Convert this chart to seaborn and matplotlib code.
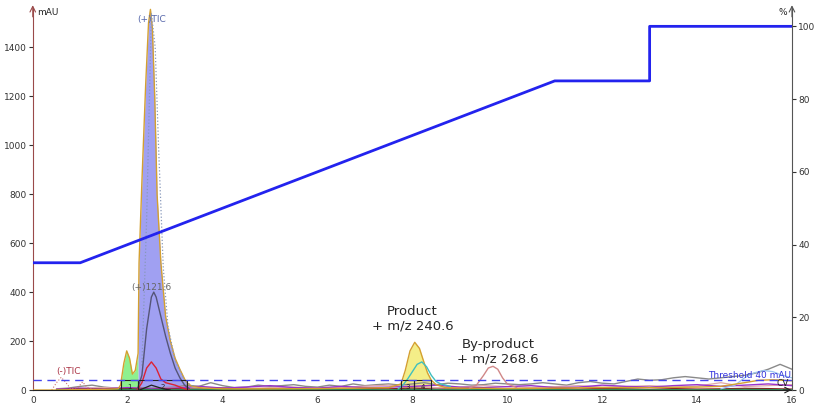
import numpy as np
import pandas as pd
import matplotlib
matplotlib.use("Agg")
import matplotlib.pyplot as plt
import seaborn as sns
from matplotlib.patches import Rectangle

# UV trace (gold outline of the collected fractions)
uv_t = [0, 0.45, 1.0, 1.5, 1.8, 1.85, 1.92, 1.98, 2.04, 2.1, 2.16, 2.22, 2.24, 2.3, 2.38,
        2.44, 2.48, 2.52, 2.57, 2.62, 2.7, 2.8, 2.9, 3.0, 3.1, 3.2, 3.25, 3.35, 3.6, 4.0,
        5, 6, 7, 7.5, 7.76, 7.85, 7.95, 8.05, 8.15, 8.25, 8.32, 8.4, 8.5, 8.7, 9, 10, 11,
        12, 13, 14, 14.5, 15, 15.3, 15.6, 16]
uv_y = [0, 0, 2, 3, 5, 20, 110, 160, 130, 65, 80, 150, 520, 850, 1250,
        1500, 1555, 1480, 1200, 800, 520, 300, 200, 130, 85, 45, 30, 15, 8, 5,
        5, 6, 8, 10, 25, 80, 160, 195, 170, 110, 70, 40, 22, 10, 8, 6, 8,
        10, 10, 12, 15, 30, 40, 42, 38]

# collected peaks (filled) and fraction tubes (boxes)
peak_start = [1.85, 2.22, 7.76]
peak_end = [2.22, 3.25, 8.40]
peak_color = ["#8ef08e", "#a0a0f2", "#f4ee88"]
frac_start = [1.85, 2.22, 7.76, 8.04]
frac_end = [2.22, 3.25, 8.04, 8.40]
frac_label = ["1", "2", "3", "4"]

# (+)121.6 trace
ion_t = [2.2, 2.3, 2.4, 2.5, 2.55, 2.6, 2.7, 2.8, 2.9, 3.0, 3.1, 3.2, 3.3]
ion_y = [0, 60, 250, 380, 400, 380, 300, 220, 150, 90, 50, 20, 5]
# red trace
red_t = [2.2, 2.3, 2.4, 2.5, 2.6, 2.7, 2.8, 3.0, 3.2, 3.3]
red_y = [0, 30, 90, 115, 90, 45, 30, 20, 5, 0]
# dotted (+)TIC
tic_t = [2.3, 2.4, 2.5, 2.58, 2.65, 2.75, 2.85, 3.0, 3.2, 3.4]
tic_y = [100, 700, 1540, 1400, 1000, 500, 260, 120, 40, 10]
# product m/z 240.6
prod_t = [7.7, 7.8, 7.9, 8.0, 8.1, 8.2, 8.3, 8.4, 8.5, 8.6, 8.8]
prod_y = [5, 20, 45, 75, 105, 115, 95, 60, 35, 25, 15]
# by-product m/z 268.6
byp_t = [9.2, 9.35, 9.5, 9.6, 9.7, 9.8, 9.9, 10.0, 10.2]
byp_y = [8, 20, 60, 90, 97, 85, 50, 25, 10]
# (-)TIC
neg_t = [0.4, 0.5, 0.6, 0.7, 0.8, 0.95, 1.05, 1.15, 1.3]
neg_y = [0, 30, 52, 30, 5, 10, 33, 10, 2]
# dark trace inside fraction 2
dark_t = [2.25, 2.4, 2.5, 2.6, 2.75, 2.9]
dark_y = [0, 12, 20, 14, 5, 0]

# baseline traces
gray_t = np.arange(0.5, 16.01, 0.25)
gray_y = [5, 8, 15, 20, 12, 8, 5, 10, 8, 10, 12, 20, 15, 30, 18, 10,
          12, 20, 15, 18, 22, 15, 12, 20, 15, 25, 18, 22, 25, 20, 25, 30,
          22, 28, 25, 20, 22, 28, 25, 22, 25, 30, 25, 20, 30, 35, 28, 25,
          35, 45, 40, 42, 50, 55, 50, 45, 50, 55, 60, 70, 85, 105, 85]
base_t = np.arange(0.5, 16.01, 0.5)
purple_y = [3, 8, 5, 10, 5, 8, 15, 8, 12, 18, 10, 8, 15, 10, 12, 15,
            20, 12, 10, 14, 18, 10, 12, 20, 15, 12, 18, 22, 15, 20, 25, 18]
brown_y = [2, 4, 3, 6, 2, 5, 4, 7, 3, 5, 6, 4, 3, 6, 5, 8,
           4, 5, 7, 3, 5, 6, 4, 7, 5, 3, 6, 4, 5, 7, 6, 4]
green_y = [1, 2, 1, 3, 2, 1, 3, 2, 1, 2, 3, 1, 2, 2, 1, 3,
           2, 1, 2, 3, 1, 2, 1, 2, 3, 1, 2, 1, 2, 3, 2, 1]
pink_y = [4, 6, 10, 8, 6, 10, 14, 8, 6, 10, 12, 8, 10, 16, 20, 14,
          10, 12, 18, 14, 10, 14, 18, 12, 14, 18, 12, 16, 30, 14, 18, 22]
lblue_t = [14.5, 14.8, 15.0, 15.2, 15.4, 15.6, 15.8, 16.0]
lblue_y = [5, 20, 50, 70, 80, 75, 60, 50]

# gradient (% B)
grad_t = [0, 1, 11, 13, 13, 16]
grad_y = [35, 35, 85, 85, 100, 100]

threshold = 40

sns.set_style("white")
plt.rcParams['font.family'] = ['DejaVu Sans']


def trace(ax, x, y, **kw):
    sns.lineplot(x=x, y=y, ax=ax, sort=False, estimator=None, **kw)


fig = plt.figure(figsize=(8.19, 4.08), dpi=100)
ax = fig.add_axes([0.040, 0.044, 0.927, 0.936])

uv = pd.DataFrame({"t": uv_t, "y": uv_y})
for s, e, c in zip(peak_start, peak_end, peak_color):
    m = (uv["t"] >= s) & (uv["t"] <= e)
    ax.fill_between(uv["t"][m], uv["y"][m], color=c, lw=0, zorder=1)

trace(ax, gray_t, gray_y, color="#8a8a8a", lw=1.0, zorder=2)
trace(ax, base_t, pink_y, color="#e0a8a8", lw=0.9, zorder=2)
trace(ax, base_t, purple_y, color="#9933cc", lw=1.0, zorder=2)
trace(ax, base_t, brown_y, color="#8b2020", lw=0.9, zorder=2)
trace(ax, base_t, green_y, color="#2e8b57", lw=0.9, zorder=2)
trace(ax, lblue_t, lblue_y, color="#9cc4ee", lw=0.9, zorder=2)
trace(ax, neg_t, neg_y, color="#d07070", lw=0.8, ls=":", zorder=2)

trace(ax, uv_t, uv_y, color="#d4a030", lw=1.0, zorder=3)
trace(ax, tic_t, tic_y, color="#8899bb", lw=0.9, ls=":", zorder=3)
trace(ax, ion_t, ion_y, color="#555577", lw=1.0, zorder=3)
trace(ax, red_t, red_y, color="#dd2233", lw=1.0, zorder=3)
trace(ax, dark_t, dark_y, color="#222222", lw=0.9, zorder=3)
trace(ax, prod_t, prod_y, color="#3fbfbf", lw=1.0, zorder=3)
trace(ax, byp_t, byp_y, color="#d08888", lw=1.0, zorder=3)

for s, e, lab in zip(frac_start, frac_end, frac_label):
    ax.add_patch(Rectangle((s, 0), e - s, threshold, fill=False, ec="#222222", lw=0.8, zorder=4))
    ax.text((s + e) / 2, 12, lab, fontsize=5, ha="center", va="center", color="#222222", zorder=5)

ax.axhline(threshold, color="#4444ee", ls=(0, (6, 4)), lw=1.0, zorder=4)
ax.text(15.98, threshold + 2, "Threshold 40 mAU", color="#3333dd", fontsize=6.5,
        ha="right", va="bottom", zorder=5)
ax.text(15.8, 28, "CV", color="#222222", fontsize=6.5, ha="center", va="center", zorder=5)

ax.text(2.5, 1515, "(+)TIC", color="#5566aa", fontsize=6.5, ha="center", va="center", zorder=5)
ax.text(2.5, 420, "(+)121.6", color="#666666", fontsize=6.5, ha="center", va="center", zorder=5)
ax.text(0.75, 75, "(-)TIC", color="#aa3344", fontsize=6.5, ha="center", va="center", zorder=5)
ax.text(8.0, 290, "Product\n+ m/z 240.6", fontsize=9.5, ha="center", va="center",
        linespacing=1.15, zorder=5)
ax.text(9.8, 158, "By-product\n+ m/z 268.6", fontsize=9.5, ha="center", va="center",
        linespacing=1.15, zorder=5)

ax.set_xlim(0, 16)
ax.set_ylim(0, 1560)
ax.set_xticks(range(0, 17, 2))
ax.set_yticks(range(0, 1401, 200))
ax.tick_params(labelsize=6.5, length=3, width=0.8, pad=1.5, colors="#333333")
ax.set_xlabel("")
ax.set_ylabel("")
for sp in ["top", "right"]:
    ax.spines[sp].set_visible(False)
ax.spines["left"].set_color("#9a4a4a")
ax.spines["bottom"].set_color("#222222")
ax.text(0.006, 1.0, "mAU", transform=ax.transAxes, fontsize=6.5, ha="left", va="top")
ax.annotate("", xy=(0, 1.015), xytext=(0, 0.97), xycoords="axes fraction",
            arrowprops=dict(arrowstyle="->", color="#9a4a4a", lw=0.8))
ax.annotate("", xy=(1.003, 0), xytext=(0.985, 0), xycoords="axes fraction",
            arrowprops=dict(arrowstyle="->", color="#222222", lw=0.8))

ax2 = ax.twinx()
trace(ax2, grad_t, grad_y, color="#2323ee", lw=2.0)
ax2.set_ylim(0, 105)
ax2.set_yticks(range(0, 101, 20))
ax2.tick_params(labelsize=6.5, length=3, width=0.8, pad=1.5, colors="#333333")
ax2.set_ylabel("")
for sp in ["top", "left", "bottom"]:
    ax2.spines[sp].set_visible(False)
ax2.spines["right"].set_color("#555555")
ax2.text(0.994, 1.0, "%", transform=ax2.transAxes, fontsize=6.5, ha="right", va="top")
ax2.annotate("", xy=(1, 1.015), xytext=(1, 0.97), xycoords="axes fraction",
             arrowprops=dict(arrowstyle="->", color="#555555", lw=0.8))

fig.savefig("out.png", dpi=100)
